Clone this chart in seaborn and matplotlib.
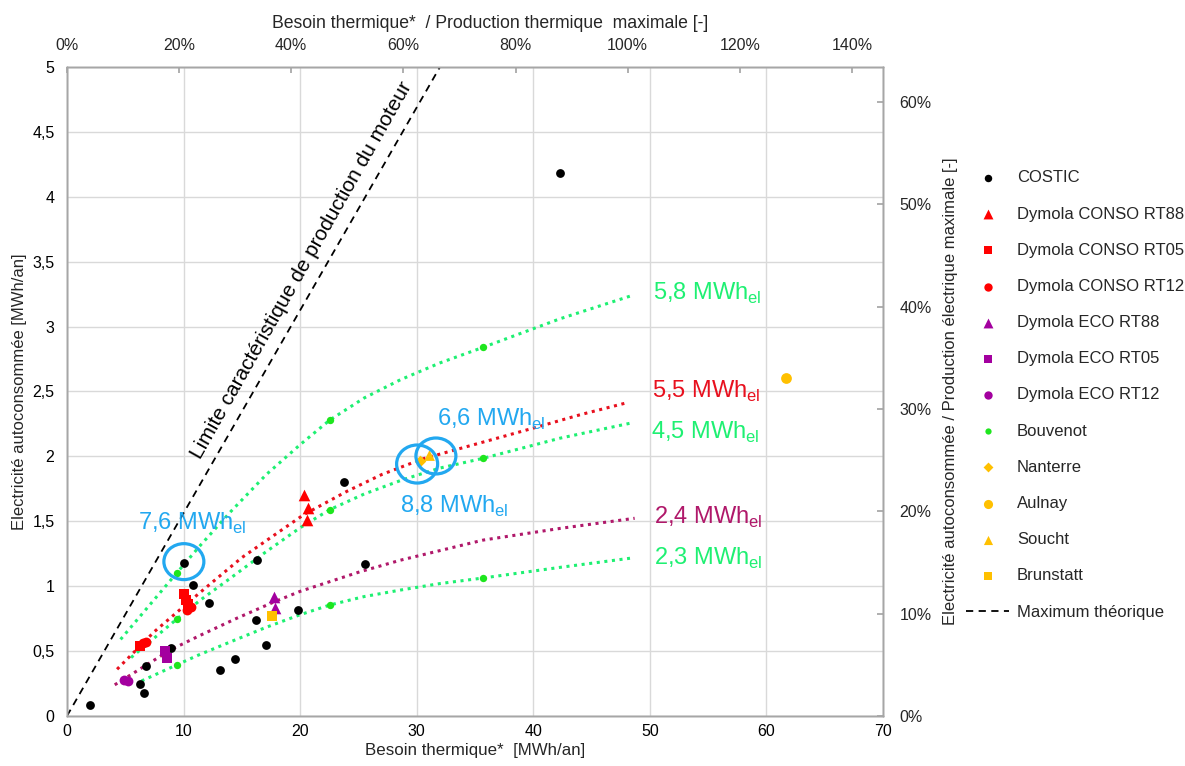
import numpy as np
import matplotlib
matplotlib.use("Agg")
import matplotlib.pyplot as plt
from matplotlib.patches import Ellipse
from matplotlib.ticker import FuncFormatter, MultipleLocator
import seaborn as sns

# Data
# scatter series (Besoin thermique [MWh/an], Electricite autoconsommee [MWh/an])
costic_x = [2.0, 6.3, 6.6, 6.8, 8.9, 10.0, 10.8, 12.2, 13.1, 14.4, 16.2, 16.3, 17.1, 19.8, 23.8, 25.6, 42.3]
costic_y = [0.085, 0.25, 0.18, 0.385, 0.52, 1.18, 1.01, 0.87, 0.355, 0.44, 0.74, 1.20, 0.55, 0.82, 1.805, 1.17, 4.18]

conso88_x = [20.3, 20.7, 20.55]
conso88_y = [1.70, 1.60, 1.51]
conso05_x = [10.0, 10.2, 10.4, 6.3]
conso05_y = [0.94, 0.89, 0.86, 0.54]
conso12_x = [10.3, 10.6, 6.5, 6.8]
conso12_y = [0.82, 0.84, 0.56, 0.57]

eco88_x = [17.8, 17.85]
eco88_y = [0.915, 0.83]
eco05_x = [8.4, 8.6]
eco05_y = [0.50, 0.45]
eco12_x = [4.9, 5.2]
eco12_y = [0.28, 0.27]

bouvenot_x = [9.4, 22.55, 35.7, 9.4, 22.55, 35.7, 9.4, 22.55, 35.7]
bouvenot_y = [1.10, 2.28, 2.84, 0.745, 1.59, 1.99, 0.393, 0.855, 1.063]

nanterre_x = [30.3]
nanterre_y = [1.965]
aulnay_x = [61.7]
aulnay_y = [2.60]
soucht_x = [31.1]
soucht_y = [2.01]
brunstatt_x = [17.6]
brunstatt_y = [0.77]

# theoretical maximum (engine production limit)
max_x = [0.0, 32.0]
max_y = [0.0, 5.0]

# dotted curves
c58_x = [4.6, 9.4, 11.4, 14.0, 17.1, 20.0, 22.55, 25.5, 28.6, 32.0, 35.7, 42.3, 48.5]
c58_y = [0.59, 1.10, 1.31, 1.57, 1.86, 2.09, 2.28, 2.45, 2.59, 2.72, 2.84, 3.06, 3.24]
c55_x = [4.3, 7.5, 11.4, 15.0, 20.3, 24.0, 27.0, 30.5, 35.7, 40.1, 44.0, 47.9]
c55_y = [0.36, 0.65, 0.95, 1.22, 1.55, 1.73, 1.86, 1.98, 2.11, 2.22, 2.32, 2.41]
c45_x = [5.5, 9.4, 11.4, 14.0, 17.0, 20.0, 22.55, 25.5, 28.8, 32.0, 35.7, 42.3, 48.3]
c45_y = [0.45, 0.745, 0.89, 1.06, 1.26, 1.45, 1.59, 1.71, 1.82, 1.91, 1.985, 2.14, 2.255]
c24_x = [4.1, 8.9, 11.4, 14.5, 17.8, 20.0, 25.1, 28.6, 35.7, 42.3, 48.7]
c24_y = [0.24, 0.51, 0.62, 0.75, 0.88, 0.96, 1.11, 1.20, 1.355, 1.445, 1.523]
c23_x = [6.4, 9.4, 11.3, 14.0, 17.0, 20.0, 22.55, 25.5, 28.6, 32.0, 35.7, 42.3, 48.3]
c23_y = [0.27, 0.393, 0.47, 0.57, 0.68, 0.78, 0.855, 0.92, 0.97, 1.02, 1.063, 1.145, 1.215]

p_th_max = 48.1   # MWh/an -> 100 % on top axis
p_el_max = 7.884  # MWh/an -> 100 % on right axis

sns.set_theme(style="white")
plt.rcParams['font.family'] = ['Liberation Sans', 'DejaVu Sans']
plt.rcParams['mathtext.fontset'] = 'custom'
plt.rcParams['mathtext.rm'] = 'Liberation Sans'

RED = "#FF0000"
PURPLE = "#A3009F"
GREEN_PT = "#1EE61E"
GREEN_LN = "#1EF072"
ORANGE = "#FFC000"
BLUE = "#22A8F0"
CRED = "#E8101E"
CPURP = "#B0186A"
GRAY = "#A6A6A6"

fig = plt.figure(figsize=(11.85, 7.66), dpi=100)
ax = fig.add_axes([0.0565, 0.0653, 0.6886, 0.8473])

# dotted curves
dot = (0, (1, 1.5))
for cx, cy, col in [(c58_x, c58_y, GREEN_LN), (c55_x, c55_y, CRED), (c45_x, c45_y, GREEN_LN),
                    (c24_x, c24_y, CPURP), (c23_x, c23_y, GREEN_LN)]:
    sns.lineplot(x=cx, y=cy, sort=False, estimator=None, color=col, lw=2.2, linestyle=dot, ax=ax)

# scatter series
series = [
    (costic_x, costic_y, "o", "black", 40, "COSTIC"),
    (conso88_x, conso88_y, "^", RED, 70, "Dymola CONSO RT88"),
    (conso05_x, conso05_y, "s", RED, 50, "Dymola CONSO RT05"),
    (conso12_x, conso12_y, "o", RED, 50, "Dymola CONSO RT12"),
    (eco88_x, eco88_y, "^", PURPLE, 70, "Dymola ECO RT88"),
    (eco05_x, eco05_y, "s", PURPLE, 50, "Dymola ECO RT05"),
    (eco12_x, eco12_y, "o", PURPLE, 50, "Dymola ECO RT12"),
    (bouvenot_x, bouvenot_y, "o", GREEN_PT, 28, "Bouvenot"),
    (nanterre_x, nanterre_y, "D", ORANGE, 35, "Nanterre"),
    (aulnay_x, aulnay_y, "o", ORANGE, 60, "Aulnay"),
    (soucht_x, soucht_y, "^", ORANGE, 60, "Soucht"),
    (brunstatt_x, brunstatt_y, "s", ORANGE, 55, "Brunstatt"),
]
for sx, sy, m, c, s, lab in series:
    sns.scatterplot(x=sx, y=sy, marker=m, color=c, s=s, linewidth=0, label=lab, ax=ax, zorder=3)

sns.lineplot(x=max_x, y=max_y, color="black", lw=1.3, linestyle=(0, (4, 3)),
             label="Maximum théorique", ax=ax)

# blue circles
for (ex, ey, w, h) in [(10.03, 1.189, 3.43, 0.277), (30.04, 1.941, 3.52, 0.293), (31.65, 2.003, 3.43, 0.277)]:
    ax.add_patch(Ellipse((ex, ey), w, h, fill=False, ec=BLUE, lw=2.3, zorder=4))

# curve labels
lab_kw = dict(fontsize=17, ha="left", va="baseline")
ax.text(50.26, 3.21, "5,8 MWh$_{\\rm el}$", color=GREEN_LN, **lab_kw)
ax.text(50.17, 2.448, "5,5 MWh$_{\\rm el}$", color=CRED, **lab_kw)
ax.text(50.09, 2.139, "4,5 MWh$_{\\rm el}$", color=GREEN_LN, **lab_kw)
ax.text(50.34, 1.479, "2,4 MWh$_{\\rm el}$", color=CPURP, **lab_kw)
ax.text(50.34, 1.163, "2,3 MWh$_{\\rm el}$", color=GREEN_LN, **lab_kw)
ax.text(31.73, 2.237, "6,6 MWh$_{\\rm el}$", color=BLUE, **lab_kw)
ax.text(28.56, 1.566, "8,8 MWh$_{\\rm el}$", color=BLUE, **lab_kw)
ax.text(6.09, 1.433, "7,6 MWh$_{\\rm el}$", color=BLUE, **lab_kw)

ax.text(20.1, 3.43, "Limite caractéristique de production du moteur", fontsize=15,
        rotation=60.5, rotation_mode="anchor", ha="center", va="center", color="black")

# axes
ax.set_xlim(0, 70)
ax.set_ylim(0, 5)
ax.xaxis.set_major_locator(MultipleLocator(10))
ax.yaxis.set_major_locator(MultipleLocator(0.5))
ax.yaxis.set_major_formatter(FuncFormatter(lambda v, p: f"{v:g}".replace(".", ",")))
ax.grid(True, color="#D9D9D9", lw=1)
ax.tick_params(axis="both", length=0, labelsize=11.5, colors="black")
ax.tick_params(axis="y", pad=9)
ax.tick_params(axis="x", pad=6)
ax.set_xlabel("Besoin thermique*  [MWh/an]", fontsize=12.2, labelpad=3)
ax.set_ylabel("Electricité autoconsommée [MWh/an]", fontsize=12, labelpad=4)

ax_top = ax.twiny()
ax_top.set_xlim(0, 70 / p_th_max * 100)
ax_top.set_xticks(np.arange(0, 141, 20))
ax_top.xaxis.set_major_formatter(FuncFormatter(lambda v, p: f"{v:.0f}%"))
ax_top.tick_params(axis="x", direction="in", length=4, color=GRAY, labelsize=11.5, pad=10)
ax_top.set_xlabel("Besoin thermique*  / Production thermique  maximale [-]", fontsize=12.7, labelpad=7)
ax_top.xaxis.label.set_x(0.518)

ax_r = ax.twinx()
ax_r.set_ylim(0, 5 / p_el_max * 100)
ax_r.set_yticks(np.arange(0, 61, 10))
ax_r.yaxis.set_major_formatter(FuncFormatter(lambda v, p: f"{v:.0f}%"))
ax_r.tick_params(axis="y", direction="in", length=4, color=GRAY, labelsize=11.5, pad=12)
ax_r.set_ylabel("Electricité autoconsommée / Production électrique maximale [-]", fontsize=12, labelpad=8)

for a in (ax, ax_top, ax_r):
    for sp in a.spines.values():
        sp.set_color(GRAY)
        sp.set_linewidth(1)

handles, labels = ax.get_legend_handles_labels()
ax.legend(handles, labels, loc="center left", bbox_to_anchor=(966 / 1185, 1 - 395 / 766),
          bbox_transform=fig.transFigure, frameon=False, fontsize=12, labelspacing=1.27,
          handlelength=2.6, handletextpad=0.45, borderpad=0, borderaxespad=0, markerscale=0.85)

fig.savefig("out.png", dpi=100)
